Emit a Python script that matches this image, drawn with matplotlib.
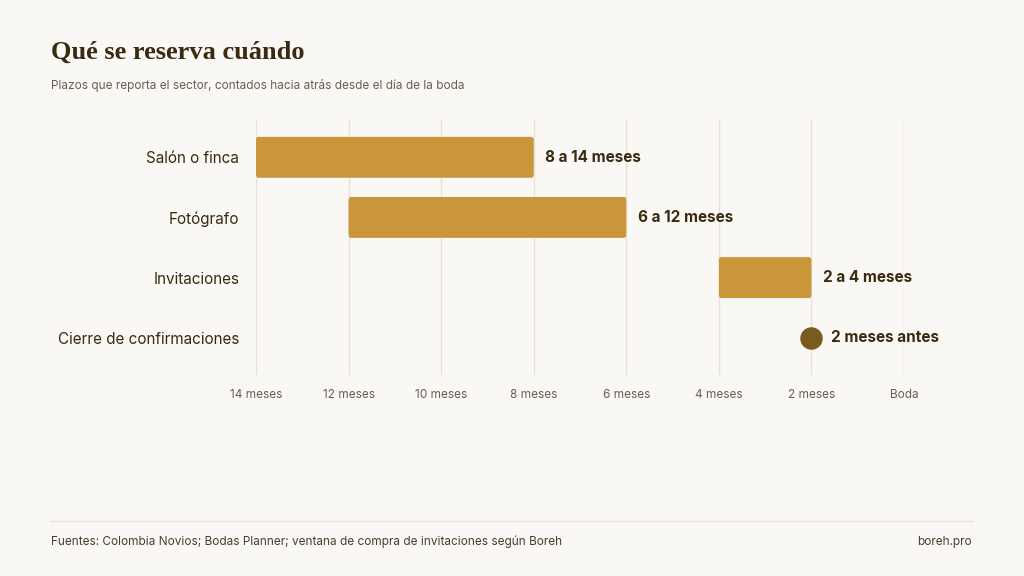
import matplotlib.pyplot as plt
from matplotlib.patches import FancyBboxPatch

plt.rcParams['font.family'] = ['Inter', 'DejaVu Sans']

# data
tareas = ["Salón o finca", "Fotógrafo", "Invitaciones", "Cierre de confirmaciones"]
desde = [14, 12, 4, 2]
hasta = [8, 6, 2, 2]
etiquetas = ["8 a 14 meses", "6 a 12 meses", "2 a 4 meses", "2 meses antes"]
ticks = [14, 12, 10, 8, 6, 4, 2, 0]
tick_labels = ["14 meses", "12 meses", "10 meses", "8 meses", "6 meses", "4 meses", "2 meses", "Boda"]

bg = "#FAF8F4"
bar_c = "#C9963A"
dot_c = "#7A5A1E"
txt = "#3A2A10"

fig = plt.figure(figsize=(10.24, 5.76), dpi=100, facecolor=bg)
ax = fig.add_axes([256/1024, 1-375/576, 648/1024, 255/576], facecolor=bg)
ax.set_xlim(14, 0)
ax.set_ylim(3.62, -0.62)

for t in ticks:
    ax.axvline(t, color="#E8E2D6", lw=1, zorder=0)

for i, (a, b, lab) in enumerate(zip(desde, hasta, etiquetas)):
    if a != b:
        ax.add_patch(FancyBboxPatch((b, i - 0.34), a - b, 0.68,
                                    boxstyle="round,pad=0,rounding_size=0.05",
                                    fc=bar_c, ec="none", mutation_aspect=1, zorder=2))
        x_end = b
    else:
        ax.scatter([a], [i], s=230, color=dot_c, zorder=3)
        x_end = a - 0.18
    ax.text(x_end - 0.25, i, lab, ha="left", va="center", fontsize=11,
            fontweight="bold", color=txt)

ax.set_yticks(range(len(tareas)))
ax.set_yticklabels(tareas, fontsize=11, color=txt)
ax.set_xticks(ticks)
ax.set_xticklabels(tick_labels, fontsize=8.5, color="#6A5E4E")
ax.tick_params(length=0, pad=12)
ax.tick_params(axis="x", pad=10)
for s in ax.spines.values():
    s.set_visible(False)

fig.text(51/1024, 1-52/576, "Qué se reserva cuándo", fontsize=19, fontweight="bold",
         family=["Liberation Serif", "DejaVu Serif"], color=txt, va="center")
fig.text(51/1024, 1-85/576, "Plazos que reporta el sector, contados hacia atrás desde el día de la boda",
         fontsize=8.5, color="#6A5E4E", va="center")
fig.add_artist(plt.Line2D([51/1024, 972/1024], [1-521/576]*2, color="#E8E2D6", lw=1))
fig.text(51/1024, 1-542/576, "Fuentes: Colombia Novios; Bodas Planner; ventana de compra de invitaciones según Boreh",
         fontsize=8.5, color="#4A3E2E", va="center")
fig.text(972/1024, 1-542/576, "boreh.pro", fontsize=8.5, color="#4A3E2E", va="center", ha="right")

fig.savefig("out.png", dpi=100, facecolor=bg)
